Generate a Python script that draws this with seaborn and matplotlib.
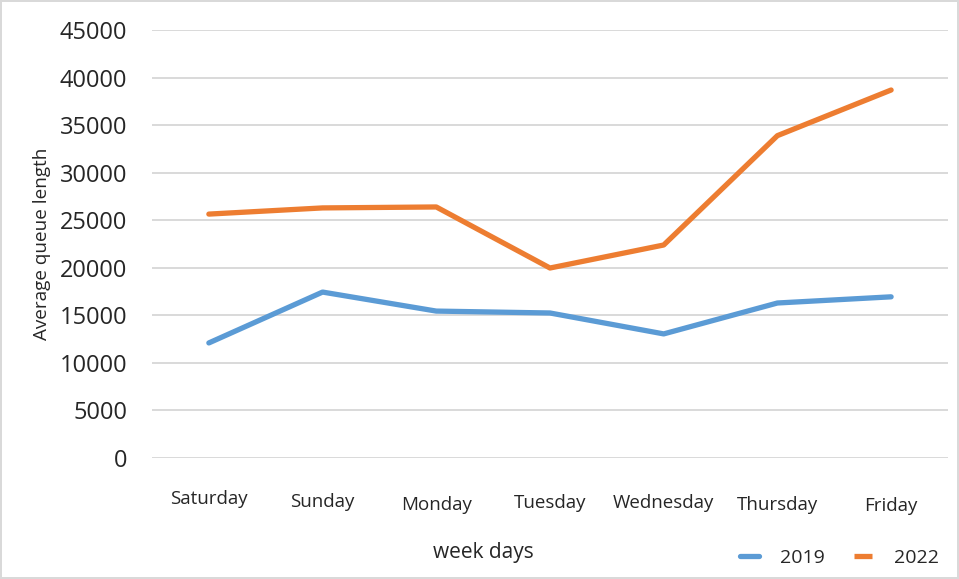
import matplotlib.pyplot as plt
import matplotlib.transforms as mtransforms
import seaborn as sns
import pandas as pd

# values
days = ['Saturday', 'Sunday', 'Monday', 'Tuesday', 'Wednesday', 'Thursday', 'Friday']
queue_2019 = [12100, 17450, 15450, 15250, 13050, 16300, 16950]
queue_2022 = [25650, 26300, 26400, 19980, 22400, 33900, 38700]
years = ['2019', '2022']
y_ticks = [0, 5000, 10000, 15000, 20000, 25000, 30000, 35000, 40000, 45000]

df = pd.DataFrame({
    'day': days * 2,
    'queue': queue_2019 + queue_2022,
    'year': [years[0]] * len(days) + [years[1]] * len(days),
})

sns.set_theme(style='white')
plt.rcParams['font.family'] = ['Open Sans', 'DejaVu Sans']

fig = plt.figure(figsize=(9.59, 5.79), dpi=100)
fig.patch.set_edgecolor('#d9d9d9')
fig.patch.set_linewidth(1.5)
ax = fig.add_axes([0.1585, 0.209, 0.83, 0.739])

sns.lineplot(data=df, x='day', y='queue', hue='year', sort=False,
             palette={'2019': '#5b9bd5', '2022': '#ed7d31'},
             linewidth=3.8, ax=ax, legend=False)

ax.set_ylim(0, 45000)
ax.set_xlim(-0.5, len(days) - 0.5)
ax.set_yticks(y_ticks)
ax.set_yticklabels([str(t) for t in y_ticks], fontsize=17, color='#262626')
ax.yaxis.grid(True, color='#d9d9d9', linewidth=1.4)
ax.set_axisbelow(True)
for s in ax.spines.values():
    s.set_visible(False)
ax.tick_params(axis='y', length=0, pad=18)
ax.tick_params(axis='x', length=0, pad=23)
ax.set_xticks(range(len(days)))
ax.set_xticklabels(days, fontsize=13.5, color='#262626')

# the x labels in the reference sit slightly staggered
shifts = [0, -3, -6, -4, -4, -6, -7]
for lab, dy in zip(ax.get_xticklabels(), shifts):
    lab.set_transform(lab.get_transform() +
                      mtransforms.ScaledTranslation(0, dy / 100, fig.dpi_scale_trans))

ax.set_xlabel('')
ax.set_ylabel('Average queue length', fontsize=13.6, color='#262626', labelpad=6)
fig.text(0.504, 0.045, 'week days', fontsize=15, color='#262626', ha='center', va='center')

handles = [plt.Line2D([], [], color='#5b9bd5', linewidth=3.8),
           plt.Line2D([], [], color='#ed7d31', linewidth=3.8, solid_capstyle='butt')]
fig.legend(handles, years, loc='center', bbox_to_anchor=(0.8754, 0.036), ncol=2,
           frameon=False, fontsize=14, handlelength=0.95, columnspacing=1.5,
           handletextpad=1.1, borderaxespad=0, borderpad=0)

fig.savefig('out.png', dpi=100)
